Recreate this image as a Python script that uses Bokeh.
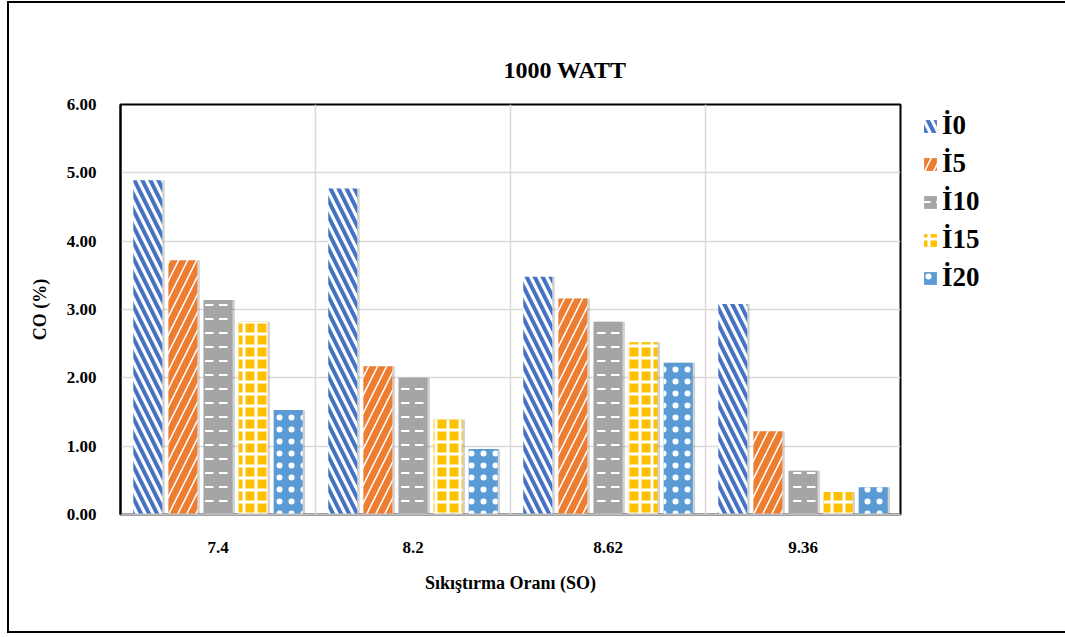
from bokeh.plotting import figure
from bokeh.models import (ColumnDataSource, FactorRange, Range1d, FixedTicker,
                          NumeralTickFormatter, Span, Legend, LegendItem)
from bokeh.transform import dodge
from bokeh.embed import file_html
from bokeh.resources import INLINE

# Compression ratios (x categories) and fuel blends (series)
ratios = ["7.4", "8.2", "8.62", "9.36"]
series = ["İ0", "İ5", "İ10", "İ15", "İ20"]

# CO emissions (%) at 1000 W load
i0 = [4.89, 4.77, 3.48, 3.08]
i5 = [3.72, 2.17, 3.16, 1.22]
i10 = [3.14, 2.00, 2.82, 0.64]
i15 = [2.82, 1.39, 2.52, 0.33]
i20 = [1.53, 0.96, 2.22, 0.40]

y_ticks = [0, 1, 2, 3, 4, 5, 6]

source = ColumnDataSource(data=dict(ratio=ratios, i0=i0, i5=i5, i10=i10, i15=i15, i20=i20))

FONT = "Liberation Serif"

p = figure(x_range=FactorRange(factors=ratios, range_padding=0),
           y_range=Range1d(0, 6),
           width=1048, height=628,
           frame_width=780, frame_height=410,
           min_border_left=111, min_border_right=157,
           min_border_top=101, min_border_bottom=117,
           output_backend="svg", toolbar_location=None)

# outer chart border
p.styles = {"border": "2px solid black", "margin-left": "7px", "margin-top": "1px",
            "margin-right": "6px", "height": "628px", "box-sizing": "content-box",
            "overflow": "hidden"}

p.title.text = "1000 WATT"
p.title.align = "left"
p.title.offset = 383
p.title.standoff = 43
p.title.text_font = FONT
p.title.text_font_style = "bold"
p.title.text_font_size = "24px"
p.title.text_color = "black"

p.outline_line_color = "black"
p.outline_line_width = 2

# grid
p.ygrid.ticker = FixedTicker(ticks=y_ticks)
p.ygrid.grid_line_color = "#d9d9d9"
p.ygrid.grid_line_width = 1.5
p.xgrid.grid_line_color = None
for b in [1, 2, 3]:
    p.add_layout(Span(location=b, dimension="height", line_color="#d9d9d9", line_width=1.5))

# axes
p.yaxis.ticker = FixedTicker(ticks=y_ticks)
p.yaxis.formatter = NumeralTickFormatter(format="0.00")
p.yaxis.axis_label = "CO (%)"
p.xaxis.axis_label = "Sıkıştırma Oranı (SO)"
for ax in (p.xaxis[0], p.yaxis[0]):
    ax.major_tick_line_color = None
    ax.minor_tick_line_color = None
    ax.major_label_text_font = FONT
    ax.major_label_text_font_style = "bold"
    ax.major_label_text_font_size = "17px"
    ax.major_label_text_color = "black"
    ax.axis_label_text_font = FONT
    ax.axis_label_text_font_style = "bold"
    ax.axis_label_text_font_size = "18px"
    ax.axis_label_text_color = "black"
p.yaxis.major_label_standoff = 18
p.yaxis.axis_label_standoff = 14
p.yaxis.axis_line_color = "black"
p.yaxis.axis_line_width = 2
p.xaxis.major_label_standoff = 21
p.xaxis.axis_label_standoff = 17
p.xaxis.axis_line_color = "#bfbfbf"
p.xaxis.axis_line_width = 2

offsets = [-0.36, -0.18, 0.0, 0.18, 0.36]
cols = ["i0", "i5", "i10", "i15", "i20"]
styles = [
    dict(fill_color="white", hatch_pattern="left_diagonal_line", hatch_color="#4472c4", hatch_weight=4, hatch_scale=16),
    dict(fill_color="white", hatch_pattern="right_diagonal_line", hatch_color="#ed7d31", hatch_weight=6.5, hatch_scale=18),
    dict(fill_color="#a5a5a5", hatch_pattern="horizontal_dash", hatch_color="white", hatch_weight=2, hatch_scale=14),
    dict(fill_color="#ffc000", hatch_pattern="cross", hatch_color="white", hatch_weight=3, hatch_scale=12),
    dict(fill_color="#5b9bd5", hatch_pattern="dot", hatch_color="white", hatch_weight=0.5, hatch_scale=12),
]
bar_w = 0.149

# soft drop shadows behind the bars
for off, col in zip(offsets, cols):
    p.vbar(x=dodge("ratio", off + 0.012, range=p.x_range), top=col, width=bar_w, source=source,
           fill_color="black", fill_alpha=0.18, line_color=None)

items = []
for name, off, col, st in zip(series, offsets, cols, styles):
    r = p.vbar(x=dodge("ratio", off, range=p.x_range), top=col, width=bar_w, source=source,
               line_color=None, **st)
    items.append(LegendItem(label=name, renderers=[r]))

legend = Legend(items=items, location=(22, 221), orientation="vertical",
                label_text_font=FONT, label_text_font_style="bold", label_text_font_size="27px",
                label_text_color="black", glyph_width=16, glyph_height=16, label_standoff=4,
                spacing=7, padding=0, margin=0, border_line_color=None, background_fill_alpha=0)
p.add_layout(legend, "right")

open("out.html", "w").write(file_html(p, INLINE))
